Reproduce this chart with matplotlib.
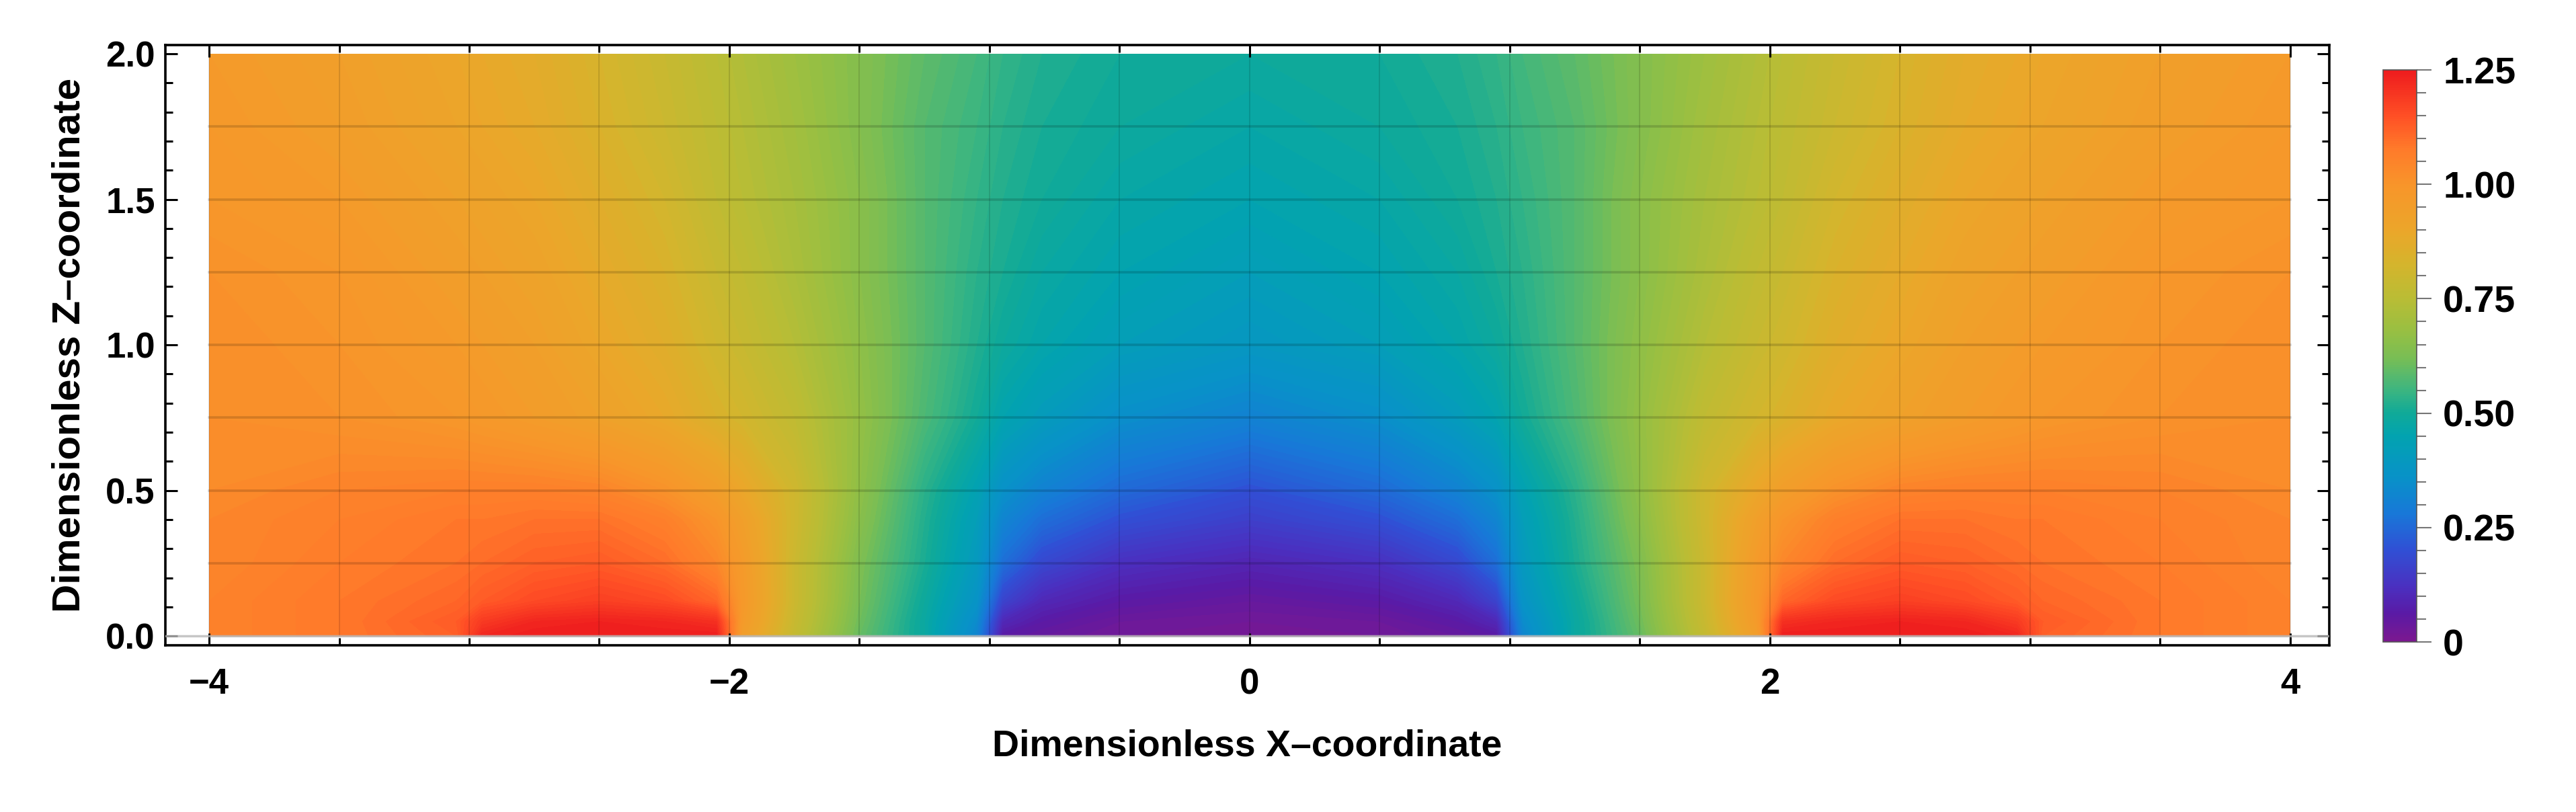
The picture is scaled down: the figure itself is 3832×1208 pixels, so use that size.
import numpy as np
import matplotlib
matplotlib.use("Agg")
import matplotlib.pyplot as plt
from matplotlib.colors import LinearSegmentedColormap, Normalize
from matplotlib.cm import ScalarMappable
from matplotlib.ticker import MultipleLocator

plt.rcParams['font.family'] = ['Liberation Sans', 'DejaVu Sans']
plt.rcParams['font.weight'] = 'bold'
plt.rcParams['axes.labelweight'] = 'bold'

# field, right half (x >= 0); the plot is mirror-symmetric in x
x_half = [0, 0.5, 0.8, 0.95, 1.05, 1.25, 1.5, 1.75, 1.95, 2.05, 2.25, 2.5, 2.75, 2.95, 3.05, 3.5, 4.0]
z_vals = [0, 0.05, 0.12, 0.25, 0.4, 0.5, 0.75, 1.0, 1.25, 1.5, 1.75, 2.0]
field_half = [
    [0.01, 0.02, 0.04, 0.06, 0.32, 0.48, 0.60, 0.78, 0.95, 1.25, 1.25, 1.25, 1.25, 1.23, 1.12, 1.08, 1.05],
    [0.02, 0.03, 0.06, 0.10, 0.34, 0.48, 0.61, 0.79, 0.97, 1.21, 1.23, 1.24, 1.23, 1.19, 1.13, 1.08, 1.05],
    [0.04, 0.06, 0.10, 0.17, 0.37, 0.49, 0.62, 0.80, 0.98, 1.11, 1.16, 1.18, 1.16, 1.13, 1.11, 1.08, 1.05],
    [0.09, 0.12, 0.18, 0.26, 0.40, 0.51, 0.63, 0.80, 0.97, 1.04, 1.10, 1.13, 1.12, 1.10, 1.09, 1.07, 1.04],
    [0.16, 0.20, 0.26, 0.32, 0.42, 0.52, 0.65, 0.81, 0.94, 1.00, 1.06, 1.09, 1.09, 1.08, 1.08, 1.06, 1.04],
    [0.20, 0.25, 0.31, 0.36, 0.44, 0.53, 0.66, 0.81, 0.90, 0.95, 1.01, 1.05, 1.06, 1.06, 1.06, 1.05, 1.03],
    [0.31, 0.35, 0.41, 0.45, 0.50, 0.57, 0.67, 0.77, 0.82, 0.84, 0.89, 0.93, 0.96, 0.98, 0.99, 1.01, 1.02],
    [0.39, 0.42, 0.46, 0.49, 0.52, 0.58, 0.66, 0.74, 0.79, 0.81, 0.86, 0.90, 0.94, 0.96, 0.97, 1.00, 1.02],
    [0.42, 0.45, 0.48, 0.51, 0.53, 0.58, 0.65, 0.72, 0.77, 0.79, 0.84, 0.88, 0.92, 0.94, 0.95, 0.99, 1.01],
    [0.45, 0.47, 0.50, 0.52, 0.54, 0.58, 0.65, 0.71, 0.75, 0.77, 0.82, 0.86, 0.90, 0.92, 0.93, 0.97, 0.99],
    [0.47, 0.49, 0.51, 0.53, 0.55, 0.58, 0.64, 0.70, 0.74, 0.76, 0.80, 0.84, 0.88, 0.90, 0.91, 0.95, 0.98],
    [0.49, 0.50, 0.52, 0.54, 0.56, 0.59, 0.64, 0.69, 0.73, 0.75, 0.79, 0.83, 0.87, 0.89, 0.90, 0.94, 0.97],
]

# colour scale sampled from the legend bar
stop_vals = [0.0, 0.06, 0.12, 0.2, 0.28, 0.36, 0.45, 0.5, 0.55, 0.62, 0.68, 0.75, 0.83, 0.9, 1.0, 1.08, 1.15, 1.25]
stop_cols = ['#7b1890', '#5a1aa5', '#4a30c0', '#3050d5', '#1878d8', '#0892c8', '#02a3b0', '#10aa98',
             '#3cb580', '#78be55', '#98bf42', '#b9bd35', '#d6b42c', '#eba62a', '#f8952a', '#ff7a2a',
             '#ff5025', '#ee1c1e']
vmax = 1.25
cmap = LinearSegmentedColormap.from_list('rainbow_mma', list(zip(np.array(stop_vals) / vmax, stop_cols)))

x_full = np.concatenate([-np.array(x_half[:0:-1]), x_half])
field = np.array([row[:0:-1] + row for row in field_half])

fig = plt.figure(figsize=(38.32, 12.08), dpi=100)
ax = fig.add_axes([0.0642, 0.2053, 0.84, 0.7392])
cax = fig.add_axes([0.9251, 0.2094, 0.0131, 0.7045])

levels = np.linspace(0, vmax, 126)
ax.contourf(x_full, z_vals, field, levels=levels, cmap=cmap, vmin=0, vmax=vmax, antialiased=False)

# mesh lines
for xv in np.arange(-4, 4.01, 0.5):
    ax.plot([xv, xv], [0, 2], color='k', alpha=0.13, lw=1.3, zorder=2)
for zv in np.arange(0.25, 1.8, 0.25):
    ax.plot([-4, 4], [zv, zv], color='k', alpha=0.15, lw=2.6, zorder=2)
ax.axhline(0, color='#b8b8b8', lw=2.5, alpha=0.8, zorder=3)

ax.set_xlim(-4.168, 4.15)
ax.set_ylim(-0.032, 2.03)
ax.set_xticks([-4, -2, 0, 2, 4])
ax.set_yticks([0, 0.5, 1.0, 1.5, 2.0])
ax.set_yticklabels(['0.0', '0.5', '1.0', '1.5', '2.0'])
ax.xaxis.set_minor_locator(MultipleLocator(0.5))
ax.yaxis.set_minor_locator(MultipleLocator(0.1))
ax.tick_params(which='both', direction='in', top=True, right=True, width=2.2, labelsize=38)
ax.tick_params(which='major', length=13)
ax.tick_params(which='minor', length=8)
ax.tick_params(axis='x', pad=24)
ax.tick_params(axis='y', pad=11)
for sp in ax.spines.values():
    sp.set_linewidth(2.6)

ax.set_xlabel('Dimensionless X–coordinate', fontsize=40, fontweight='bold', va='center')
ax.xaxis.set_label_coords(0.5, -0.168)
ax.set_ylabel('Dimensionless Z–coordinate', fontsize=42, fontweight='bold', va='center')
ax.yaxis.set_label_coords(-0.0444, 0.5)

sm = ScalarMappable(norm=Normalize(0, vmax), cmap=cmap)
cb = fig.colorbar(sm, cax=cax)
cb.set_ticks([0, 0.25, 0.5, 0.75, 1.0, 1.25])
cb.set_ticklabels(['0', '0.25', '0.50', '0.75', '1.00', '1.25'])
cb.ax.yaxis.set_minor_locator(MultipleLocator(0.05))
cb.ax.tick_params(which='both', direction='out', color='#777777', width=1.5, labelsize=40, pad=12)
cb.ax.tick_params(which='major', length=16)
cb.ax.tick_params(which='minor', length=10)
cb.outline.set_linewidth(1.2)
cb.outline.set_edgecolor('#555555')

fig.savefig('out.png', dpi=100)
